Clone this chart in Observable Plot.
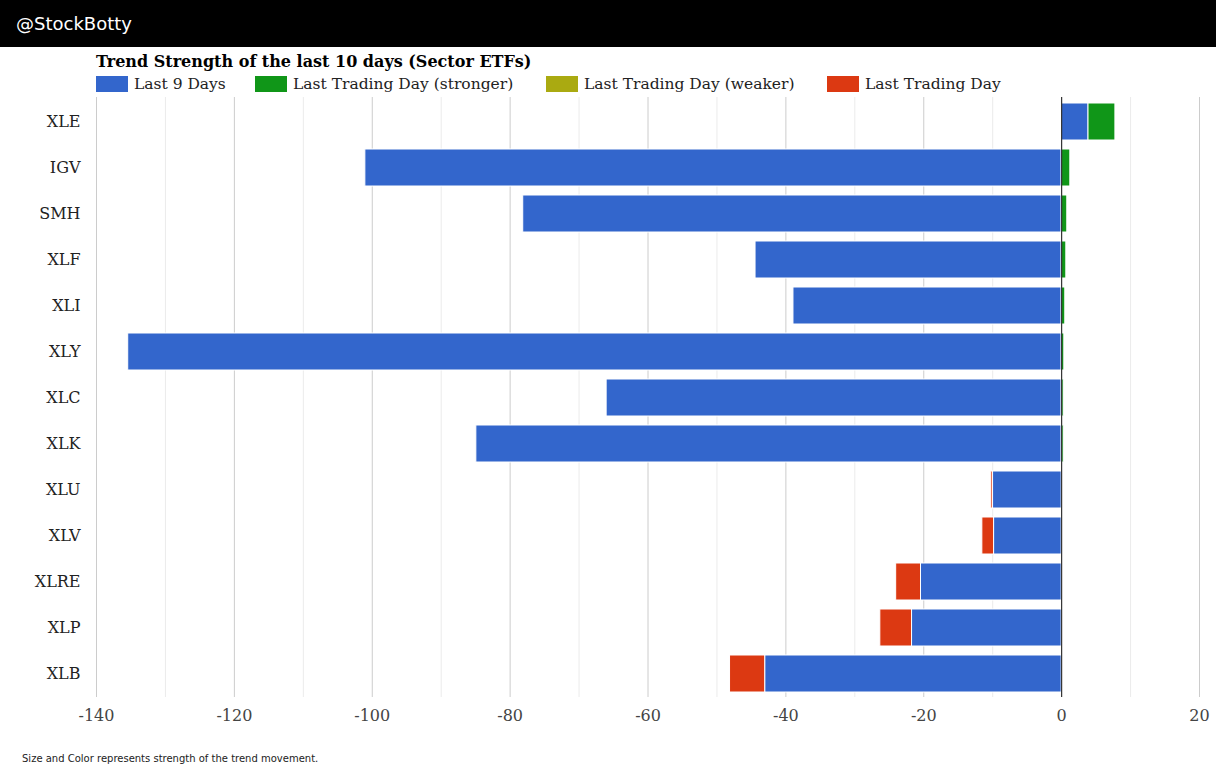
<!DOCTYPE html>
<html>
<head>
<meta charset="utf-8">
<script src="https://cdn.jsdelivr.net/npm/d3@7"></script>
<script src="https://cdn.jsdelivr.net/npm/@observablehq/plot@0.6"></script>
<style>
  html, body { margin: 0; padding: 0; background: #fff; width: 1216px; height: 769px; overflow: hidden; }
  #header { height: 47px; background: #000; color: #fff; font-family: "DejaVu Sans", sans-serif; font-size: 18px; line-height: 47px; padding-left: 16px; box-sizing: border-box; }
  #title { position: absolute; left: 96px; top: 52px; font-family: "DejaVu Serif", serif; font-weight: bold; font-size: 16px; color: #000; white-space: nowrap; }
  #legend { position: absolute; left: 96px; top: 74px; height: 20px; font-family: "DejaVu Serif", serif; font-size: 15.5px; color: #222; white-space: nowrap; }
  .item { position: absolute; top: 0; display: flex; align-items: center; height: 20px; }
  .sw { width: 32px; height: 16px; margin-right: 6px; }
  #chart { position: absolute; left: 0; top: 93px; }
  #footer { position: absolute; left: 22px; top: 753px; font-family: "DejaVu Sans", sans-serif; font-size: 10px; color: #222; }
</style>
</head>
<body>
<div id="header">@StockBotty</div>
<div id="title">Trend Strength of the last 10 days (Sector ETFs)</div>
<div id="legend"></div>
<div id="chart"></div>
<div id="footer">Size and Color represents strength of the trend movement.</div>
<script>
const tickers = ["XLE","IGV","SMH","XLF","XLI","XLY","XLC","XLK","XLU","XLV","XLRE","XLP","XLB"];
const last9 = [3.9, -101.0, -78.1, -44.4, -38.9, -135.4, -66.0, -84.9, -9.95, -9.8, -20.4, -21.7, -43.0];
const lastDay = [3.9, 1.26, 0.82, 0.68, 0.53, 0.39, 0.3, 0.3, -0.25, -1.7, -3.6, -4.6, -5.1];
const seriesNames = ["Last 9 Days", "Last Trading Day (stronger)", "Last Trading Day (weaker)", "Last Trading Day"];
const seriesColors = ["#3366cc", "#109618", "#aaaa11", "#dc3912"];
const majorTicks = [-140, -120, -100, -80, -60, -40, -20, 0, 20];
const minorTicks = [-130, -110, -90, -70, -50, -30, -10, 10];

// legend
const legend = document.getElementById("legend");
const legendX = [0, 159, 450, 731];
seriesNames.forEach((n, i) => {
  const d = document.createElement("div");
  d.className = "item";
  d.style.left = legendX[i] + "px";
  d.innerHTML = `<span class="sw" style="background:${seriesColors[i]}"></span><span>${n}</span>`;
  legend.appendChild(d);
});

// segments
const segs = [];
tickers.forEach((t, i) => {
  segs.push({ticker: t, x1: 0, x2: last9[i], series: seriesNames[0]});
  const ld = lastDay[i];
  let s;
  if (last9[i] >= 0) s = ld >= 0 ? seriesNames[1] : seriesNames[2];
  else s = ld < 0 ? seriesNames[3] : seriesNames[1];
  if (last9[i] >= 0 || ld < 0) {
    segs.push({ticker: t, x1: last9[i], x2: last9[i] + ld, series: s});
  } else {
    segs.push({ticker: t, x1: 0, x2: ld, series: s});
  }
});

const fmt = d => String(d);
const chart = Plot.plot({
  width: 1216,
  height: 644,
  marginLeft: 96,
  marginRight: 17,
  marginTop: 4,
  marginBottom: 40,
  style: { fontFamily: "DejaVu Serif, serif", fontSize: "15px", color: "#222", background: "#fff" },
  x: { domain: [-140, 20], ticks: majorTicks, tickSize: 0, tickPadding: 12, label: null, tickFormat: fmt },
  y: { domain: tickers, paddingInner: 0.2, paddingOuter: 0.1, tickSize: 0, tickPadding: 16, label: null },
  color: { domain: seriesNames, range: seriesColors },
  marks: [
    Plot.ruleX(minorTicks, { stroke: "#ebebeb", strokeWidth: 1 }),
    Plot.ruleX(majorTicks.filter(d => d !== 0), { stroke: "#cccccc", strokeWidth: 1 }),
    Plot.barX(segs, { y: "ticker", x1: "x1", x2: "x2", fill: "series", stroke: "#fff", strokeWidth: 1 }),
    Plot.ruleX([0], { stroke: "#333", strokeWidth: 1.2 }),
    Plot.axisX({ ticks: majorTicks, tickSize: 0, tickPadding: 12, fill: "#444", fontSize: 16, tickFormat: fmt }),
    Plot.axisY({ tickSize: 0, tickPadding: 16, fill: "#222", fontSize: 16 })
  ]
});
document.getElementById("chart").appendChild(chart);
</script>
</body>
</html>
